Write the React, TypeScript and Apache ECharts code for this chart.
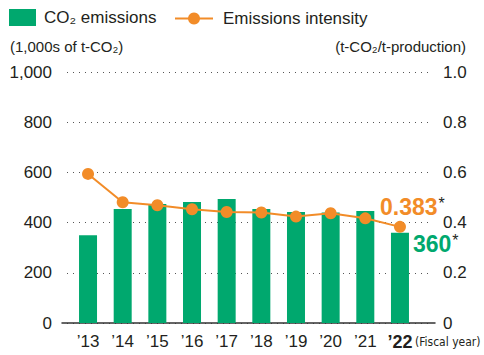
import React, { useEffect, useRef } from "react";
import * as echarts from "echarts";

const categories = ["’13", "’14", "’15", "’16", "’17", "’18", "’19", "’20", "’21", "’22"];
const emissions = [350, 454, 474, 482, 494, 454, 442, 440, 446, 360];
const intensity = [0.594, 0.481, 0.469, 0.453, 0.442, 0.44, 0.424, 0.437, 0.417, 0.383];
const leftTicks = { min: 0, max: 1000, interval: 200 };
const rightTicks = { min: 0, max: 1, interval: 0.2 };

const GREEN = "#00A86E";
const ORANGE = "#F28C28";
const TEXT = "#231F20";
const FONT = "'Liberation Sans', Arial, Helvetica, sans-serif";

export default function App() {
  const ref = useRef<HTMLDivElement>(null);
  useEffect(() => {
    if (!ref.current) return;
    const chart = echarts.init(ref.current, null, { renderer: "svg" });
    const last = categories.length - 1;
    const lineData: any[] = intensity.map((v, i) =>
      i === last
        ? {
            value: v,
            label: {
              show: true,
              position: [-14, -14],
              align: "left",
              verticalAlign: "middle",
              formatter: () => "{v|" + v.toFixed(3) + "}{s|*}",
              rich: {
                v: { fontSize: 23, fontWeight: "bold", color: ORANGE, fontFamily: FONT },
                s: { fontSize: 16, color: TEXT, fontFamily: FONT, verticalAlign: "top", padding: [0, 0, 6, 1] },
              },
            },
          }
        : v
    );
    const barData: any[] = emissions.map((v, i) =>
      i === last
        ? {
            value: v,
            label: {
              show: true,
              position: [22, 11],
              align: "left",
              verticalAlign: "middle",
              formatter: () => "{v|" + v + "}{s|*}",
              rich: {
                v: { fontSize: 23, fontWeight: "bold", color: GREEN, fontFamily: FONT },
                s: { fontSize: 16, color: TEXT, fontFamily: FONT, verticalAlign: "top", padding: [0, 0, 6, 1] },
              },
            },
          }
        : v
    );
    chart.setOption({
      animation: false,
      textStyle: { fontFamily: FONT },
      legend: [
        {
          data: ["CO₂ emissions"],
          left: 9,
          top: 9,
          padding: 0,
          itemWidth: 27,
          itemHeight: 17,
          icon: "rect",
          textStyle: { fontSize: 17, color: TEXT, fontFamily: FONT, padding: [0, 0, 0, 3] },
        },
        {
          data: ["Emissions intensity"],
          left: 174,
          top: 10,
          padding: 0,
          itemWidth: 38,
          itemHeight: 15,
          textStyle: { fontSize: 17, color: TEXT, fontFamily: FONT, padding: [0, 0, 0, 5] },
        },
      ],
      grid: [
        { left: 62, right: 49, top: 72, bottom: 32 },
        { left: 70.7, right: 66.7, top: 72, bottom: 32 },
        { left: 67, right: 54, top: 72, bottom: 32 },
      ],
      xAxis: [
        {
          gridIndex: 0,
          type: "value",
          min: 0,
          max: 1,
          axisLine: { show: true, lineStyle: { color: "#333", width: 1.5 } },
          axisTick: { show: false },
          axisLabel: { show: false },
          splitLine: { show: false },
        },
        {
          gridIndex: 1,
          type: "category",
          data: categories,
          axisLine: { show: false },
          axisTick: { show: false },
          axisLabel: {
            interval: 0,
            margin: 10,
            fontSize: 17,
            color: TEXT,
            fontFamily: FONT,
            formatter: (v: string, i: number) => (i === last ? "{b|" + v + "}" : v),
            rich: { b: { fontSize: 18, fontWeight: "bold", color: TEXT, fontFamily: FONT } },
          },
        },
        { gridIndex: 2, type: "value", min: 0, max: 1, show: false },
      ],
      yAxis: [
        {
          gridIndex: 0,
          type: "value",
          position: "left",
          ...leftTicks,
          axisLine: { show: false },
          axisTick: { show: false },
          splitLine: { show: false },
          axisLabel: {
            margin: 10,
            fontSize: 17,
            color: TEXT,
            fontFamily: FONT,
            formatter: (v: number) => v.toLocaleString("en-US"),
          },
        },
        {
          gridIndex: 0,
          type: "value",
          position: "right",
          ...rightTicks,
          axisLine: { show: false },
          axisTick: { show: false },
          splitLine: { show: false },
          axisLabel: {
            margin: 8,
            fontSize: 17,
            color: TEXT,
            fontFamily: FONT,
            formatter: (v: number) => (v === 0 ? "0" : v.toFixed(1)),
          },
        },
        { gridIndex: 1, type: "value", ...leftTicks, show: false },
        { gridIndex: 1, type: "value", position: "right", ...rightTicks, show: false },
        {
          gridIndex: 2,
          type: "value",
          ...leftTicks,
          axisLine: { show: false },
          axisTick: { show: false },
          axisLabel: { show: false },
          splitLine: { show: true, lineStyle: { color: "#555", type: [1, 5], width: 1 } },
        },
      ],
      graphic: [
        {
          type: "text",
          left: 10,
          top: 39,
          style: { text: "(1,000s of t-CO₂)", fontSize: 15, fill: TEXT, fontFamily: FONT },
        },
        {
          type: "text",
          right: 18,
          top: 39,
          style: { text: "(t-CO₂/t-production)", fontSize: 15, fill: TEXT, fontFamily: FONT },
        },
        {
          type: "text",
          left: 415,
          top: 336,
          style: {
            text: "(Fiscal year)",
            fontSize: 12,
            fill: TEXT,
            fontFamily: "'Liberation Sans Narrow', 'DejaVu Sans Condensed', Arial, sans-serif",
          },
        },
      ],
      series: [
        {
          name: "CO₂ emissions",
          type: "bar",
          xAxisIndex: 1,
          yAxisIndex: 2,
          data: barData,
          barWidth: 18,
          itemStyle: { color: GREEN },
          z: 2,
        },
        {
          name: "Emissions intensity",
          type: "line",
          xAxisIndex: 1,
          yAxisIndex: 3,
          data: lineData,
          symbol: "circle",
          symbolSize: 12,
          lineStyle: { color: ORANGE, width: 2 },
          itemStyle: { color: ORANGE },
          z: 3,
        },
      ],
    });
    return () => chart.dispose();
  }, []);
  return <div ref={ref} style={{ width: 484, height: 355, position: "absolute", left: 0, top: 0 }} />;
}
